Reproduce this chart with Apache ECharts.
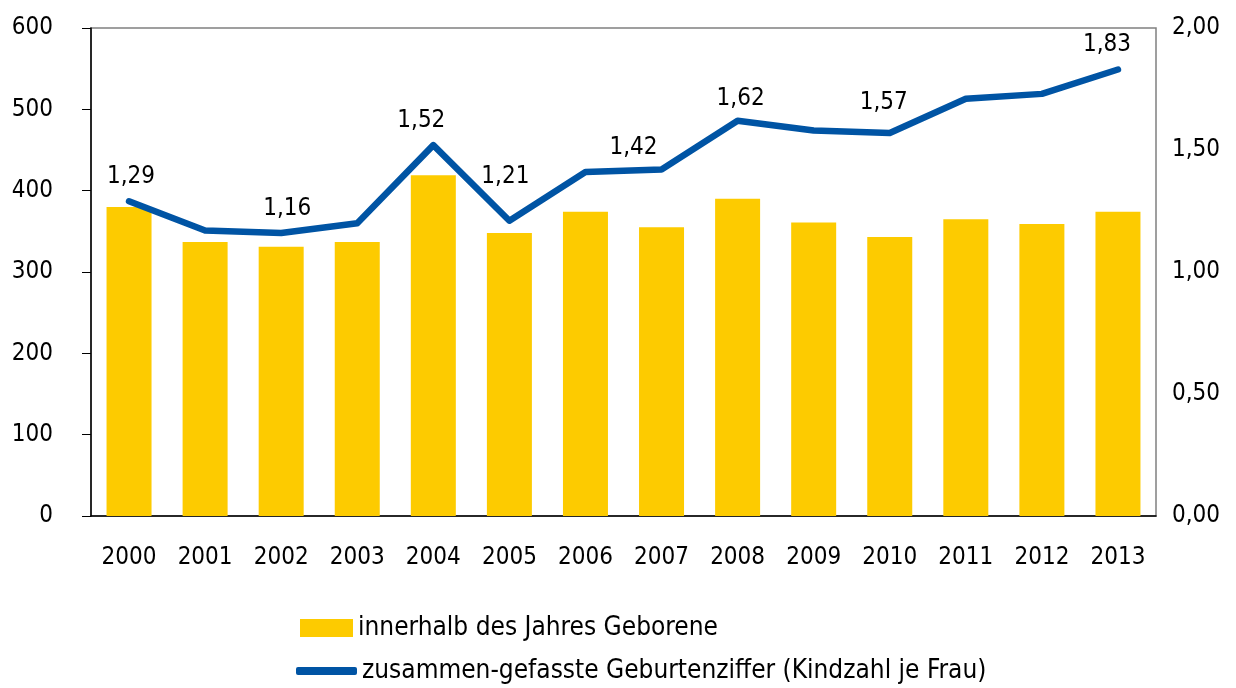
<!DOCTYPE html>
<html>
<head>
<meta charset="utf-8">
<script src="https://cdn.jsdelivr.net/npm/echarts@6/dist/echarts.min.js"></script>
<style>
  html, body { margin: 0; padding: 0; background: #fff; }
  #chart { width: 1236px; height: 688px; }
</style>
</head>
<body>
<div id="chart"></div>
<script>
  var years = ['2000','2001','2002','2003','2004','2005','2006','2007','2008','2009','2010','2011','2012','2013'];
  var births = [380, 337, 331, 337, 419, 348, 374, 355, 390, 361, 343, 365, 359, 374];
  var fertility = [1.29, 1.17, 1.16, 1.20, 1.52, 1.21, 1.41, 1.42, 1.62, 1.58, 1.57, 1.71, 1.73, 1.83];
  var barName = 'innerhalb des Jahres Geborene';
  var lineName = 'zusammen-gefasste Geburtenziffer (Kindzahl je Frau)';

  // which points carry a value label, and how far each label is nudged [dx, dy]
  var labelOffsets = {
    '2000': [2, 0], '2002': [6, 0], '2004': [-12, 0], '2005': [-4, -19],
    '2007': [-28, 3], '2008': [3, 3], '2010': [-6, -6], '2013': [-11, 0]
  };

  var colorBar = '#FDCB00';
  var colorLine = '#0054A4';
  var colorText = '#000000';
  var fontAxis = '"DejaVu Sans Condensed", "Liberation Sans", sans-serif';

  function comma(v) { return v.toFixed(2).replace('.', ','); }

  var lineData = fertility.map(function (v, i) {
    var off = labelOffsets[years[i]];
    var item = { value: v };
    if (off) item.label = { show: true, offset: off };
    return item;
  });

  var chart = echarts.init(document.getElementById('chart'));
  chart.setOption({
    animation: false,
    grid: { left: 91, right: 80, top: 28, bottom: 172, show: true, borderColor: '#808080', borderWidth: 1.5 },
    legend: [
      {
        left: 300,
        top: 615,
        padding: 0,
        itemWidth: 53,
        itemHeight: 18,
        textStyle: { fontFamily: fontAxis, fontSize: 26, color: colorText },
        data: [{ name: barName, icon: 'rect' }]
      },
      {
        left: 296,
        top: 658,
        padding: 0,
        itemWidth: 61,
        itemHeight: 8,
        textStyle: { fontFamily: fontAxis, fontSize: 26, color: colorText },
        data: [{ name: lineName, icon: 'roundRect' }]
      }
    ],
    xAxis: {
      type: 'category',
      data: years,
      axisLine: { lineStyle: { color: '#000', width: 1.5 } },
      axisTick: { show: false },
      axisLabel: { color: colorText, fontFamily: fontAxis, fontSize: 24, margin: 30 }
    },
    yAxis: [
      {
        type: 'value',
        min: 0,
        max: 600,
        interval: 100,
        axisLine: { show: true, lineStyle: { color: '#000', width: 1.5 } },
        axisTick: { show: true, length: 9, lineStyle: { color: '#000' } },
        splitLine: { show: false },
        axisLabel: { color: colorText, fontFamily: fontAxis, fontSize: 24, margin: 38 }
      },
      {
        type: 'value',
        min: 0,
        max: 2,
        interval: 0.5,
        axisLine: { show: false },
        axisTick: { show: false },
        splitLine: { show: false },
        axisLabel: {
          color: colorText, fontFamily: fontAxis, fontSize: 24, margin: 16,
          formatter: function (v) { return comma(v); }
        }
      }
    ],
    series: [
      {
        name: barName,
        type: 'bar',
        data: births,
        barWidth: 45,
        itemStyle: { color: colorBar }
      },
      {
        name: lineName,
        type: 'line',
        yAxisIndex: 1,
        data: lineData,
        symbol: 'circle',
        symbolSize: 1,
        lineStyle: { color: colorLine, width: 6.5, cap: 'round', join: 'round' },
        itemStyle: { color: colorLine },
        label: {
          show: false,
          position: 'top',
          distance: 12,
          color: colorText,
          fontFamily: fontAxis,
          fontSize: 24,
          formatter: function (p) { return comma(p.value); }
        }
      }
    ]
  });
</script>
</body>
</html>
